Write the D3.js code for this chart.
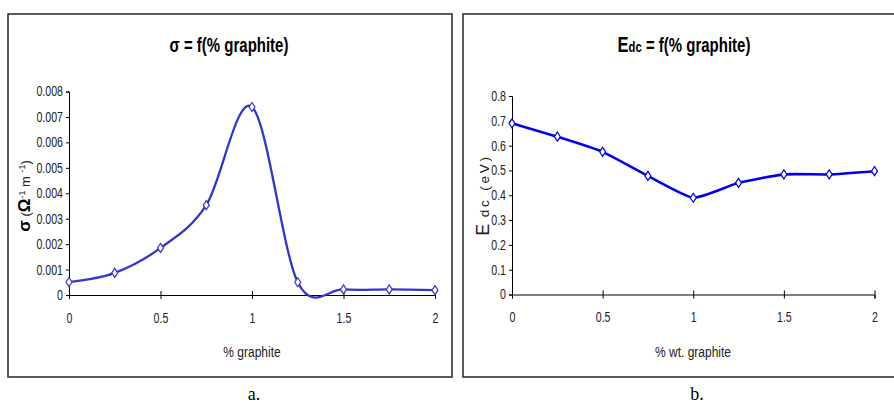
<!DOCTYPE html>
<html><head><meta charset="utf-8">
<script src="https://cdn.jsdelivr.net/npm/d3@7"></script>
<style>
body{margin:0;background:#fff;}
svg text{font-family:"Liberation Sans Narrow","Arial Narrow","Liberation Sans",Arial,sans-serif;}
</style></head>
<body><svg id="c" width="894" height="405"></svg>
<script>
// ---- data ----
const xTicks = [0, 0.5, 1, 1.5, 2];
const graphite = [0, 0.25, 0.5, 0.75, 1, 1.25, 1.5, 1.75, 2];
const sigma = [0.00051, 0.00087, 0.00185, 0.00353, 0.00739, 0.0005, 0.00022, 0.00022, 0.00019];
const sigmaTicks = [0, 0.001, 0.002, 0.003, 0.004, 0.005, 0.006, 0.007, 0.008];
const edc = [0.69, 0.636, 0.575, 0.478, 0.39, 0.45, 0.484, 0.484, 0.497];
const edcTicks = [0, 0.1, 0.2, 0.3, 0.4, 0.5, 0.6, 0.7, 0.8];

const svg = d3.select("#c");

// condense text horizontally (narrow font look)
function narrow(sel, k){
  sel.each(function(){
    const t = d3.select(this);
    const x = +(t.attr("x") || 0);
    t.attr("x", x / k);
    const tr = t.attr("transform") || "";
    t.attr("transform", tr + ` scale(${k},1)`);
  });
}

function panel(o){
  const g = svg.append("g");
  g.append("rect").attr("x",o.frame[0]).attr("y",o.frame[1]).attr("width",o.frame[2]).attr("height",o.frame[3])
   .attr("fill","none").attr("stroke","#333").attr("stroke-width",1.6);
  const x = d3.scaleLinear().domain([0,2]).range([o.x0,o.x1]);
  const y = d3.scaleLinear().domain(o.ydom).range([o.y0,o.y1]);
  // y axis
  const ya = g.append("g").attr("transform",`translate(${o.x0},0)`)
    .call(d3.axisLeft(y).tickValues(o.yTicks).tickSize(3).tickPadding(3).tickFormat(d=>String(+d.toFixed(4))));
  ya.select(".domain").attr("stroke","#000").attr("stroke-width",1);
  ya.selectAll("text").attr("font-size",14).attr("fill","#222");
  narrow(ya.selectAll("text"), 0.76);
  // x axis
  const xa = g.append("g").attr("transform",`translate(0,${o.y0})`)
    .call(d3.axisBottom(x).tickValues(xTicks).tickSize(4).tickPadding(14).tickFormat(d=>String(d)));
  xa.select(".domain").attr("stroke","#000");
  xa.selectAll(".tick line").attr("y1",-4);
  xa.selectAll("text").attr("font-size",14).attr("fill","#222");
  narrow(xa.selectAll("text"), 0.76);
  // line
  const line = d3.line().x((d,i)=>x(graphite[i])).y(d=>y(d)).curve(d3.curveCardinal.tension(o.tension));
  g.append("path").datum(o.vals).attr("d",line).attr("fill","none")
   .attr("stroke",o.color).attr("stroke-width",o.lw).attr("stroke-linejoin","round");
  // markers
  g.selectAll("path.m").data(o.vals).enter().append("path").attr("class","m")
   .attr("d","M0,-4.5L3,0L0,4.5L-3,0Z")
   .attr("transform",(d,i)=>`translate(${x(graphite[i])},${y(d)})`)
   .attr("fill","#fff").attr("stroke",o.color).attr("stroke-width",1.2);
  return g;
}

panel({frame:[8,14,444,363], x0:69, x1:435, y0:295, y1:91.5, ydom:[0,0.008],
  yTicks:sigmaTicks, vals:sigma, color:"#3434CF", lw:2.3, tension:0});
panel({frame:[463,14,440,363], x0:512, x1:874.5, y0:294.5, y1:96, ydom:[0,0.8],
  yTicks:edcTicks, vals:edc, color:"#0000F0", lw:2.6, tension:0.5});

// titles
const tA = svg.append("text").attr("x",229).attr("y",52).attr("text-anchor","middle")
  .attr("font-size",20).attr("font-weight","bold").text("σ = f(% graphite)");
const tB = svg.append("text").attr("x",684).attr("y",52).attr("text-anchor","middle").attr("font-weight","bold");
tB.append("tspan").attr("font-size",22).text("E");
tB.append("tspan").attr("font-size",15).text("dc");
tB.append("tspan").attr("font-size",20).text(" = f(% graphite)");
narrow(tA, 0.75); narrow(tB, 0.75);

// x labels
const xl = svg.selectAll("text.xl").data([[252,"% graphite"],[693,"% wt. graphite"]]).enter().append("text")
  .attr("class","xl").attr("x",d=>d[0]).attr("y",357).attr("text-anchor","middle")
  .attr("font-size",15).attr("fill","#222").text(d=>d[1]);
narrow(xl, 0.8);

// y labels
const yA = svg.append("text").attr("transform","translate(30,196) rotate(-90)").attr("text-anchor","middle").attr("font-size",13).attr("fill","#222");
yA.append("tspan").attr("font-weight","900").attr("font-size",17).attr("fill","#000").text("σ");
yA.append("tspan").text(" (");
yA.append("tspan").attr("font-weight","900").attr("font-size",17).attr("fill","#000").text("Ω");
yA.append("tspan").attr("font-size",9).attr("dy",-5).text("-1");
yA.append("tspan").attr("dy",5).text(" m ");
yA.append("tspan").attr("font-size",9).attr("dy",-5).text("-1");
yA.append("tspan").attr("dy",5).text(")");

const yB = svg.append("text").attr("transform","translate(489,195) rotate(-90)").attr("text-anchor","middle").attr("font-size",13.5).attr("fill","#222");
yB.append("tspan").attr("font-size",18).text("E");
yB.append("tspan").attr("letter-spacing",2.8).text(" dc (eV)");

// panel captions
svg.selectAll("text.cap").data([[254,"a."],[697,"b."]]).enter().append("text").attr("class","cap")
  .attr("x",d=>d[0]).attr("y",400).attr("text-anchor","middle").attr("font-size",18)
  .style("font-family","'Liberation Serif','Times New Roman',serif").text(d=>d[1]);
</script></body></html>
